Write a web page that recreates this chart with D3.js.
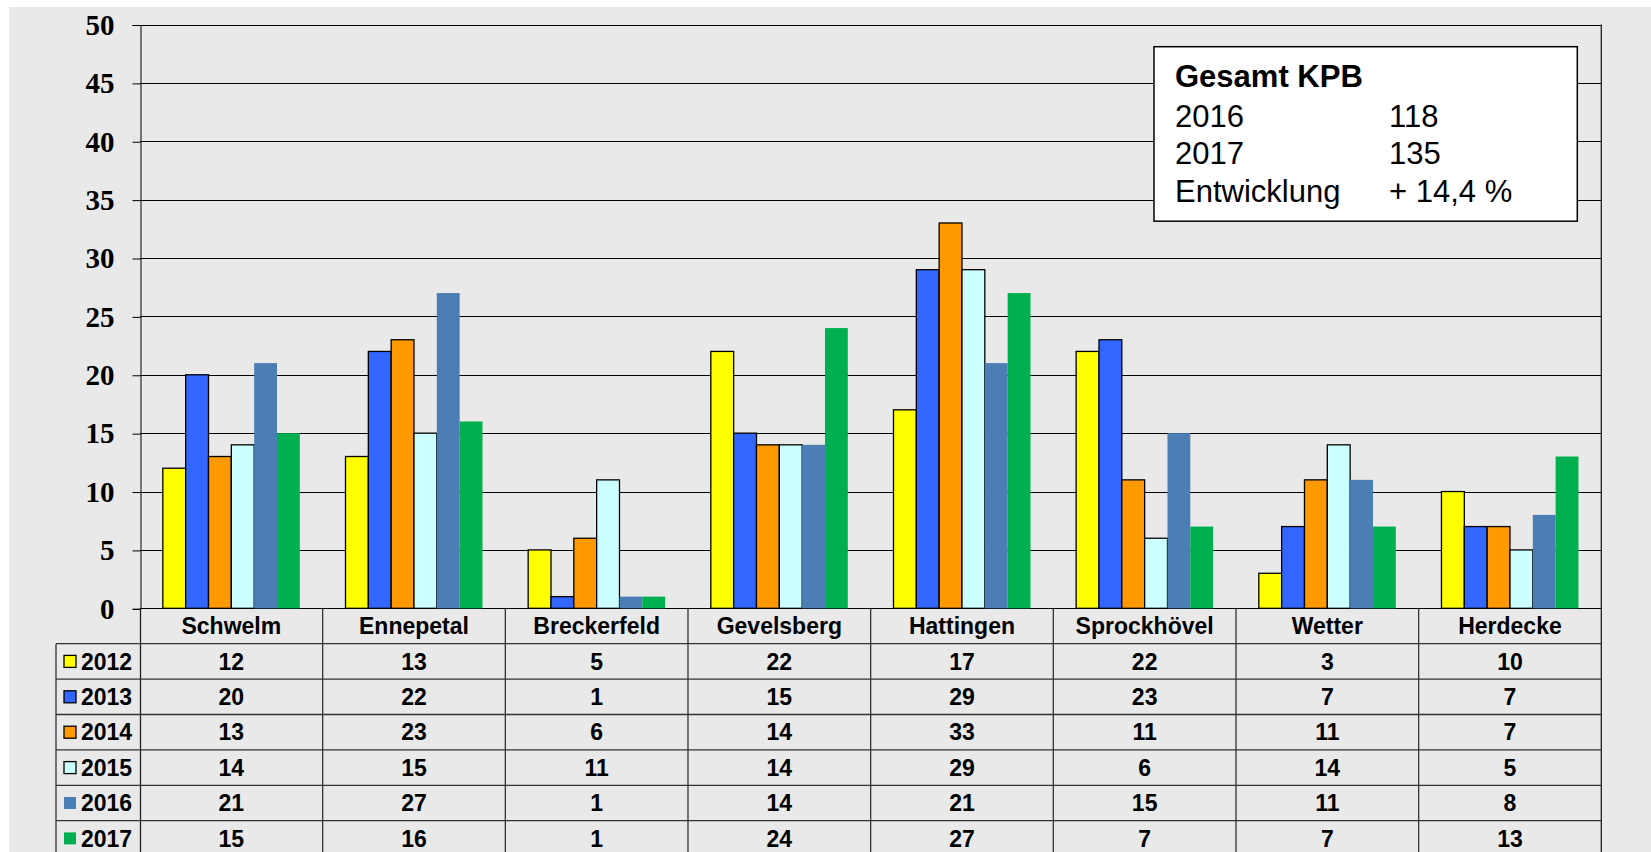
<!DOCTYPE html>
<html>
<head>
<meta charset="utf-8">
<script src="https://cdn.jsdelivr.net/npm/d3@7"></script>
<style>
  body { margin: 0; background: #fff; }
  svg { display: block; }
</style>
</head>
<body>
<div id="chart"></div>
<script>
//-------- data --------
var categories = ['Schwelm', 'Ennepetal', 'Breckerfeld', 'Gevelsberg', 'Hattingen', 'Sprockhövel', 'Wetter', 'Herdecke'];
var years = ['2012', '2013', '2014', '2015', '2016', '2017'];
var v2012 = [12, 13, 5, 22, 17, 22, 3, 10];
var v2013 = [20, 22, 1, 15, 29, 23, 7, 7];
var v2014 = [13, 23, 6, 14, 33, 11, 11, 7];
var v2015 = [14, 15, 11, 14, 29, 6, 14, 5];
var v2016 = [21, 27, 1, 14, 21, 15, 11, 8];
var v2017 = [15, 16, 1, 24, 27, 7, 7, 13];
var yTicks = [0, 5, 10, 15, 20, 25, 30, 35, 40, 45, 50];
var boxTitle = 'Gesamt KPB';
var boxLabels = ['2016', '2017', 'Entwicklung'];
var boxValues = ['118', '135', '+ 14,4 %'];

var seriesValues = [v2012, v2013, v2014, v2015, v2016, v2017];
var colors = ['#FFFF00', '#3366FF', '#FF9900', '#CCFFFF', '#4A7EB5', '#00B050'];
var outlined = [true, true, true, true, false, false];

//-------- layout --------
var W = 1651, H = 852;
var plot = { left: 140, right: 1601.3, top: 24.5, bottom: 608.3 };
var rowH = 35.4;
var legendLeft = 56;
var sans = '"Liberation Sans", Arial, sans-serif';
var serif = '"Liberation Serif", "Times New Roman", serif';
var tableFont = 23;

var svg = d3.select('#chart').append('svg').attr('width', W).attr('height', H);

// gray chart area
svg.append('rect').attr('x', 9).attr('y', 7).attr('width', W - 9).attr('height', H - 7).attr('fill', '#E9E9E9');

// scales
var y = d3.scaleLinear().domain([0, 50]).range([plot.bottom, plot.top]);
var x0 = d3.scaleBand().domain(categories).range([plot.left, plot.right]);
var x1 = d3.scaleBand().domain(years).range([0, x0.bandwidth()]).paddingInner(0).paddingOuter(1);
var rows = d3.scaleBand().domain(['cat'].concat(years)).range([plot.bottom, plot.bottom + 7 * rowH]);

// gridlines
svg.append('g').selectAll('line').data(yTicks).enter().append('line')
  .attr('x1', plot.left).attr('x2', plot.right)
  .attr('y1', function(d) { return Math.round(y(d)) + 0.5; })
  .attr('y2', function(d) { return Math.round(y(d)) + 0.5; })
  .attr('stroke', '#000').attr('stroke-width', 1);

// y axis
var yAxis = svg.append('g').attr('transform', 'translate(' + (plot.left + 0.5) + ',0.5)')
  .call(d3.axisLeft(y).tickValues(yTicks).tickSize(8).tickPadding(18).tickFormat(d3.format('d')));
yAxis.select('.domain').attr('stroke', '#000');
yAxis.selectAll('.tick line').attr('stroke', '#000');
yAxis.selectAll('text').attr('font-family', serif).attr('font-weight', 'bold').attr('font-size', 29).attr('fill', '#000');

// bars
var groups = svg.append('g').selectAll('g').data(categories).enter().append('g')
  .attr('transform', function(d) { return 'translate(' + x0(d) + ',0)'; });
groups.selectAll('rect').data(function(d, i) {
  return years.map(function(yr, j) { return { year: yr, j: j, value: seriesValues[j][i] }; });
}).enter().append('rect')
  .attr('x', function(d) { return x1(d.year); })
  .attr('y', function(d) { return y(d.value); })
  .attr('width', x1.bandwidth())
  .attr('height', function(d) { return y(0) - y(d.value); })
  .attr('fill', function(d) { return colors[d.j]; })
  .attr('stroke', function(d) { return outlined[d.j] ? '#000' : 'none'; })
  .attr('stroke-width', 1.3);

// right border of plot + table
svg.append('line').attr('x1', plot.right).attr('x2', plot.right).attr('y1', plot.top).attr('y2', H)
  .attr('stroke', '#222').attr('stroke-width', 1.3);
// left axis line down through the table
svg.append('line').attr('x1', plot.left + 0.5).attr('x2', plot.left + 0.5).attr('y1', plot.bottom).attr('y2', H)
  .attr('stroke', '#222').attr('stroke-width', 1.3);

//-------- data table --------
var table = svg.append('g');
// horizontal lines
table.selectAll('line.h').data(years).enter().append('line').attr('class', 'h')
  .attr('x1', legendLeft).attr('x2', plot.right)
  .attr('y1', function(d) { return rows(d); }).attr('y2', function(d) { return rows(d); })
  .attr('stroke', '#333').attr('stroke-width', 1.3);
// vertical lines
table.selectAll('line.v').data(categories.slice(1)).enter().append('line').attr('class', 'v')
  .attr('x1', function(d) { return x0(d); }).attr('x2', function(d) { return x0(d); })
  .attr('y1', plot.bottom).attr('y2', H)
  .attr('stroke', '#333').attr('stroke-width', 1.3);
table.append('line').attr('x1', legendLeft).attr('x2', legendLeft).attr('y1', rows('2012')).attr('y2', H)
  .attr('stroke', '#333').attr('stroke-width', 1.3);

// category labels
table.selectAll('text.cat').data(categories).enter().append('text').attr('class', 'cat')
  .attr('x', function(d) { return x0(d) + x0.bandwidth() / 2; })
  .attr('y', rows('cat') + rows.bandwidth() / 2)
  .attr('dy', '0.36em').attr('text-anchor', 'middle')
  .attr('font-family', sans).attr('font-weight', 'bold').attr('font-size', tableFont)
  .text(function(d) { return d; });

// legend swatches + year labels
var leg = table.selectAll('g.leg').data(years).enter().append('g').attr('class', 'leg')
  .attr('transform', function(d) { return 'translate(0,' + (rows(d) + rows.bandwidth() / 2) + ')'; });
leg.append('rect').attr('x', 64).attr('y', -6).attr('width', 12).attr('height', 12)
  .attr('fill', function(d, i) { return colors[i]; })
  .attr('stroke', function(d, i) { return outlined[i] ? '#000' : 'none'; })
  .attr('stroke-width', 1.3);
leg.append('text').attr('x', 81).attr('dy', '0.36em')
  .attr('font-family', sans).attr('font-weight', 'bold').attr('font-size', tableFont)
  .text(function(d) { return d; });

// values
years.forEach(function(yr, j) {
  table.selectAll('text.v' + yr).data(seriesValues[j]).enter().append('text').attr('class', 'v' + yr)
    .attr('x', function(d, i) { return x0(categories[i]) + x0.bandwidth() / 2; })
    .attr('y', rows(yr) + rows.bandwidth() / 2)
    .attr('dy', '0.36em').attr('text-anchor', 'middle')
    .attr('font-family', sans).attr('font-weight', 'bold').attr('font-size', tableFont)
    .text(function(d) { return d; });
});

//-------- summary box --------
var box = svg.append('g');
box.append('rect').attr('x', 1154).attr('y', 46.7).attr('width', 423.3).attr('height', 174.5)
  .attr('fill', '#fff').attr('stroke', '#000').attr('stroke-width', 1.5);
box.append('text').attr('x', 1175).attr('y', 87.3)
  .attr('font-family', sans).attr('font-weight', 'bold').attr('font-size', 31).text(boxTitle);
box.selectAll('text.lbl').data(boxLabels).enter().append('text').attr('class', 'lbl')
  .attr('x', 1175).attr('y', function(d, i) { return 126.7 + i * 37.5; })
  .attr('font-family', sans).attr('font-size', 31).text(function(d) { return d; });
box.selectAll('text.val').data(boxValues).enter().append('text').attr('class', 'val')
  .attr('x', 1389).attr('y', function(d, i) { return 126.7 + i * 37.5; })
  .attr('font-family', sans).attr('font-size', 31).text(function(d) { return d; });
</script>
</body>
</html>
